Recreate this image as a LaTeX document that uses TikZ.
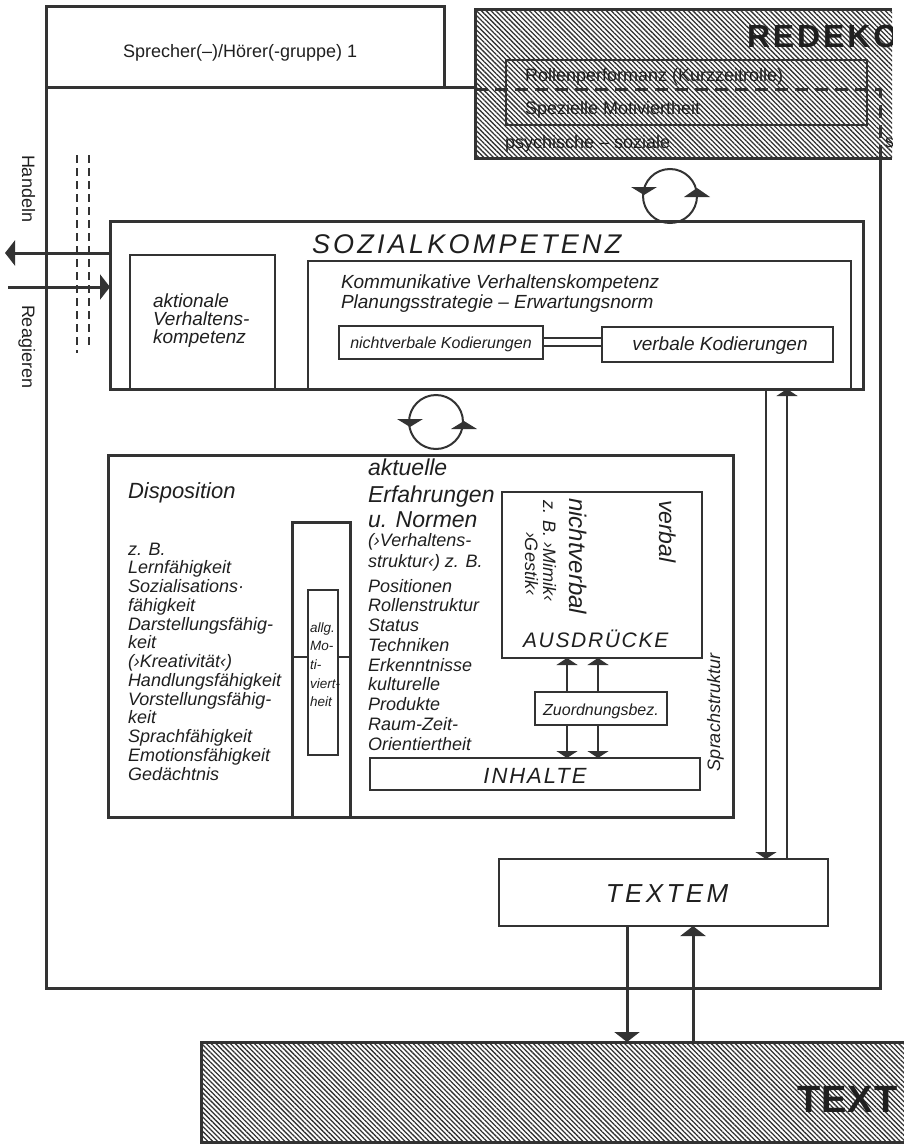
\documentclass[tikz,border=0pt]{standalone}
\usepackage{fontspec}
\setmainfont{Liberation Sans}
\usetikzlibrary{arrows.meta,patterns.meta,fit}
\definecolor{dk}{gray}{0.2}
\definecolor{tx}{gray}{0.12}
\newcommand\fsz[2]{\fontsize{#1}{#2}\selectfont}
\begin{document}
\begin{tikzpicture}[x=1pt,y=-1pt,
  fr/.style={draw=dk,line width=3pt},
  th/.style={draw=dk,line width=1.6pt},
  bx/.style={inner sep=0pt,outer sep=0pt},
  lbl/.style={inner sep=0pt,outer sep=0pt,text=tx,align=left},
  hatch/.style={pattern={Lines[angle=-45,distance=3.4pt,line width=1.3pt]},pattern color=dk},
  tip/.style={-{Triangle[width=21pt,length=7pt]}},
  tipb/.style={-{Triangle[width=25pt,length=10pt]}},
  it/.style={font=\fsz{18}{20}\itshape},
]
\useasboundingbox (0,0) rectangle (903,1145);

% ---------- top: speaker box and REDEKO box
\node[bx,fr,fit={(46,7)(444,88)}] (sprecher) {};
\node[lbl,anchor=base west,font=\fsz{18}{20}] (sprechertxt) at (123,58) {Sprecher(–)/Hörer(-gruppe) 1};

\node[bx,hatch,fit={(475,10)(892,158)}] (redeko) {};
\draw[fr] (redeko.north east) -- (redeko.north west) -- (redeko.south west) -- (redeko.south east);
\begin{scope}
  \clip (redeko.north west) rectangle (redeko.south east);
  \node[lbl,anchor=base west,font=\fsz{32}{36}\bfseries\addfontfeatures{LetterSpace=9}] (redekotxt) at (747,48) {REDEKO};
  \node[lbl,anchor=base west,font=\fsz{18}{20}] (stxt) at (885,147) {s};
\end{scope}
\node[bx,draw=dk,line width=2.2pt,fit={(506,60)(867,125)}] (rolle) {};
\node[lbl,anchor=base west,font=\fsz{18}{20}] (rolletxt) at (525,82) {Rollenperformanz (Kurzzeitrolle)};
\node[lbl,anchor=base west,font=\fsz{18}{20}] (motivtxt) at (525,115) {Spezielle Motiviertheit};
\node[lbl,anchor=base west,font=\fsz{18}{20}] (psytxt) at (505,148) {psychische – soziale};

% ---------- main frame
\draw[fr] (sprecher.south west) -- (redeko.west |- sprecher.south);
\draw[fr,dash pattern=on 13pt off 7pt] (redeko.west |- 0,90) -- (880,90) -- (880,0 |- redeko.south);
\draw[fr] (880,0 |- redeko.south) -- (880,988) -- (46,988) -- (sprecher.south west);

% ---------- Handeln / Reagieren
\node[lbl,rotate=-90,anchor=base west,font=\fsz{18}{20}] (handeln) at (22,155) {Handeln};
\node[lbl,rotate=-90,anchor=base west,font=\fsz{18}{20}] (reagieren) at (22,305) {Reagieren};
\draw[dk,line width=1.5pt,dash pattern=on 8pt off 5pt] (77,155) -- (77,353);
\draw[dk,line width=1.5pt,dash pattern=on 8pt off 5pt] (89,155) -- (89,348);

% ---------- cycle 1
\node[circle,draw=dk,line width=2pt,minimum size=54pt,inner sep=0pt] (cyc1) at (670,196) {};
\fill[dk] (631,187) -- (657,187) -- (644,195) -- cycle;
\fill[dk] (684,197) -- (710,197) -- (697,188) -- cycle;

% ---------- SOZIALKOMPETENZ
\node[bx,fr,fit={(110,221)(863,389)}] (sozial) {};
\node[bx,th,fit={(130,255)(275,389)}] (aktional) {};
\node[bx,th,fit={(308,261)(851,389)}] (kommu) {};
\node[lbl,anchor=base west,font=\fsz{27}{30}\itshape\addfontfeatures{LetterSpace=12}] (soztitle) at (312,253) {SOZIALKOMPETENZ};
\node[lbl,anchor=base west,font=\fsz{19}{20}\itshape] (akt1) at (153,307) {aktionale};
\node[lbl,anchor=base west,font=\fsz{19}{20}\itshape] (akt2) at (153,325) {Verhaltens-};
\node[lbl,anchor=base west,font=\fsz{19}{20}\itshape] (akt3) at (153,343) {kompetenz};
\node[lbl,anchor=base west,font=\fsz{19}{20}\itshape] (kom1) at (341,288) {Kommunikative Verhaltenskompetenz};
\node[lbl,anchor=base west,font=\fsz{19}{20}\itshape] (kom2) at (341,308) {Planungsstrategie – Erwartungsnorm};
\node[bx,th,fit={(339,326)(543,359)}] (nvk) {};
\node[bx,th,fit={(602,327)(833,362)}] (vk) {};
\node[lbl,anchor=base,font=\fsz{16}{18}\itshape] (nvktxt) at (441,348) {nichtverbale Kodierungen};
\node[lbl,anchor=base,font=\fsz{19}{20}\itshape] (vktxt) at (720,350) {verbale Kodierungen};
\draw[th,line width=1.3pt] (nvk.east |- 0,338) -- (vk.west |- 0,338);
\draw[th,line width=1.3pt] (nvk.east |- 0,346) -- (vk.west |- 0,346);

% Handeln / Reagieren arrows
\coordinate (handelnend) at (5,253);
\coordinate (reagstart) at (8,287);
\draw[fr,tipb] (sozial.west |- 0,253) -- (handelnend);
\draw[fr,tipb] (reagstart) -- (sozial.west |- 0,287);

% ---------- cycle 2
\node[circle,draw=dk,line width=2pt,minimum size=54pt,inner sep=0pt] (cyc2) at (436,422) {};
\fill[dk] (397,419) -- (423,419) -- (410,427) -- cycle;
\fill[dk] (451,429) -- (477,429) -- (464,421) -- cycle;

% ---------- lower box
\node[bx,fr,fit={(108,455)(733,817)}] (lower) {};
\node[bx,fr,fit={(292,522)(350,817)}] (column) {};
\node[bx,th,fit={(308,590)(338,755)}] (allg) {};
\draw[th] (column.west |- 0,657) -- (allg.west |- 0,657);
\draw[th] (allg.east |- 0,657) -- (column.east |- 0,657);
\foreach \t [count=\i from 0] in {allg.,Mo-,ti-,viert-,heit}
  \node[lbl,anchor=base west,font=\fsz{13.5}{15}\itshape] (allgtxt\i) at (310,{632+\i*18.7}) {\t};

\node[lbl,anchor=base west,font=\fsz{22}{24}\itshape] (disptitle) at (128,498) {Disposition};
\foreach \t [count=\i from 0] in {z. B.,Lernfähigkeit,Sozialisations·,fähigkeit,Darstellungsfähig-,keit,{(›Kreativität‹)},Handlungsfähigkeit,Vorstellungsfähig-,keit,Sprachfähigkeit,Emotionsfähigkeit,Gedächtnis}
  \node[lbl,anchor=base west,it] (disp\i) at (128,{555+\i*18.75}) {\t};

\node[lbl,anchor=base west,font=\fsz{23}{26}\itshape] (akttxt1) at (368,475) {aktuelle};
\node[lbl,anchor=base west,font=\fsz{23}{26}\itshape] (akttxt2) at (368,502) {Erfahrungen};
\node[lbl,anchor=base west,font=\fsz{23}{26}\itshape] (akttxt3) at (368,527) {u. Normen};
\node[lbl,anchor=base west,it] (akttxt4) at (368,546) {(›Verhaltens-};
\node[lbl,anchor=base west,it] (akttxt5) at (368,567) {struktur‹) z. B.};
\foreach \t [count=\i from 0] in {Positionen,Rollenstruktur,Status,Techniken,Erkenntnisse,kulturelle,Produkte,Raum-Zeit-,Orientiertheit}
  \node[lbl,anchor=base west,it] (pos\i) at (368,{592+\i*19.75}) {\t};

\node[bx,th,fit={(502,492)(702,658)}] (ausdr) {};
\node[lbl,rotate=-90,anchor=base west,font=\fsz{23}{26}\itshape] (verbal) at (659,500) {verbal};
\node[lbl,rotate=-90,anchor=base west,font=\fsz{24}{26}\itshape] (nichtverbal) at (569,498) {nichtverbal};
\node[lbl,rotate=-90,anchor=base west,font=\fsz{18}{20}\itshape] (mimik) at (543,500) {z. B. ›Mimik‹};
\node[lbl,rotate=-90,anchor=base west,font=\fsz{18}{20}\itshape] (gestik) at (525,532) {›Gestik‹};
\node[lbl,anchor=base west,font=\fsz{21}{24}\itshape\addfontfeatures{LetterSpace=8}] (ausdrtxt) at (523,647) {AUSDRÜCKE};

\node[bx,th,fit={(535,692)(667,725)}] (zuord) {};
\node[lbl,anchor=base,font=\fsz{16}{18}\itshape] (zuordtxt) at (zuord.center |- 0,715) {Zuordnungsbez.};
\node[bx,th,fit={(370,758)(700,790)}] (inhalte) {};
\node[lbl,anchor=base,font=\fsz{22}{24}\itshape\addfontfeatures{LetterSpace=9}] (inhaltetxt) at (535,783) {INHALTE};
\node[lbl,rotate=90,anchor=base west,font=\fsz{18}{20}\itshape] (sprachstr) at (720,771) {Sprachstruktur};

\draw[th,tip] (567,0 |- zuord.north) -- (567,0 |- ausdr.south);
\draw[th,tip] (598,0 |- zuord.north) -- (598,0 |- ausdr.south);
\draw[th,tip] (567,0 |- zuord.south) -- (567,0 |- inhalte.north);
\draw[th,tip] (598,0 |- zuord.south) -- (598,0 |- inhalte.north);

% ---------- TEXTEM and TEXT
\node[bx,th,fit={(499,859)(828,926)}] (textem) {};
\node[lbl,anchor=base,font=\fsz{26}{28}\itshape\addfontfeatures{LetterSpace=13}] (textemtxt) at (667,902) {TEXTEM};
\node[bx,hatch,draw=dk,line width=3pt,fit={(201,1042)(920,1142)}] (textbox) {};
\node[lbl,anchor=base west,font=\fsz{38}{40}\bfseries\addfontfeatures{LetterSpace=3}] (texttxt) at (797,1112) {TEXT};

\draw[th,tip] (766,0 |- sozial.south) -- (766,0 |- textem.north);
\draw[th,tip] (787,0 |- textem.north) -- (787,0 |- sozial.south);
\draw[fr,tipb] (627,0 |- textem.south) -- (627,0 |- textbox.north);
\draw[fr,tipb] (693,0 |- textbox.north) -- (693,0 |- textem.south);
\end{tikzpicture}
\end{document}
